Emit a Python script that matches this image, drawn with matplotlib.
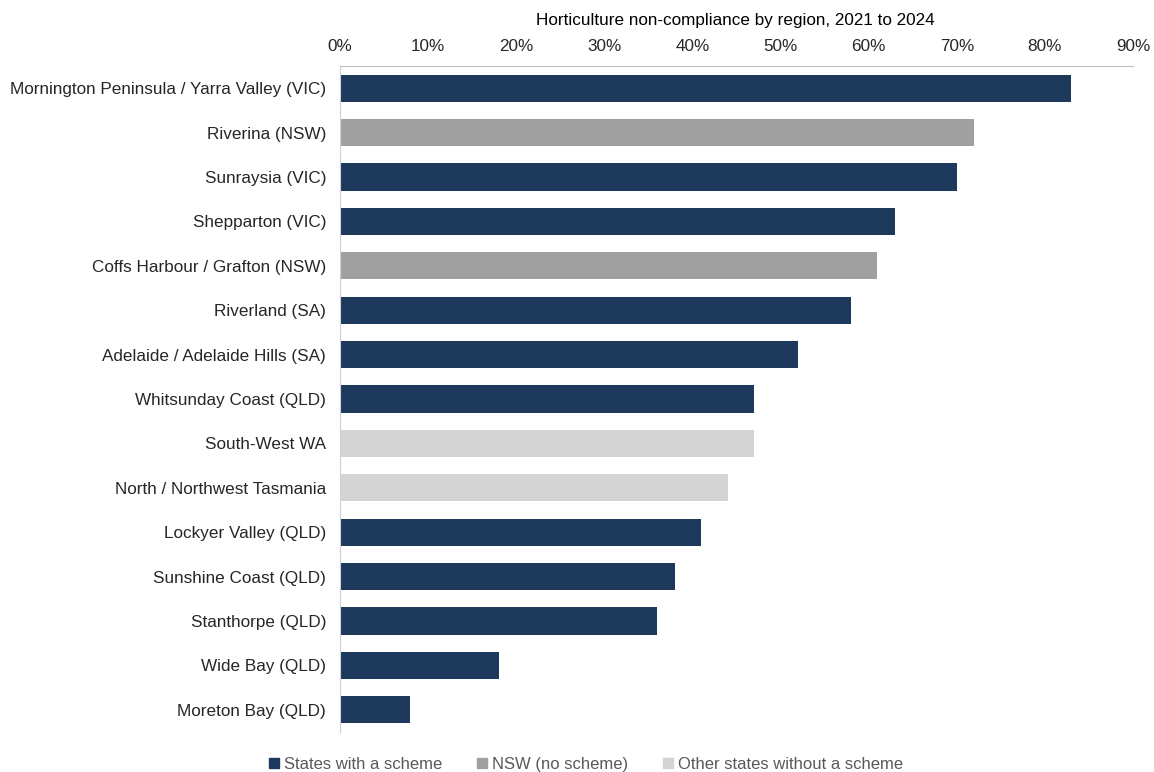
import matplotlib.pyplot as plt
from matplotlib.patches import Patch

plt.rcParams['font.family'] = ['Liberation Sans', 'DejaVu Sans']

# Data
regions = [
    "Mornington Peninsula / Yarra Valley (VIC)",
    "Riverina (NSW)",
    "Sunraysia (VIC)",
    "Shepparton (VIC)",
    "Coffs Harbour / Grafton (NSW)",
    "Riverland (SA)",
    "Adelaide / Adelaide Hills (SA)",
    "Whitsunday Coast (QLD)",
    "South-West WA",
    "North / Northwest Tasmania",
    "Lockyer Valley (QLD)",
    "Sunshine Coast (QLD)",
    "Stanthorpe (QLD)",
    "Wide Bay (QLD)",
    "Moreton Bay (QLD)",
]
non_compliance = [83, 72, 70, 63, 61, 58, 52, 47, 47, 44, 41, 38, 36, 18, 8]
group = ["scheme", "nsw", "scheme", "scheme", "nsw", "scheme", "scheme", "scheme",
         "other", "other", "scheme", "scheme", "scheme", "scheme", "scheme"]
group_labels = {"scheme": "States with a scheme",
                "nsw": "NSW (no scheme)",
                "other": "Other states without a scheme"}
colours = {"scheme": "#1d3a5c", "nsw": "#a0a0a0", "other": "#d4d4d4"}

fig = plt.figure(figsize=(11.54, 7.72), dpi=100)
ax = fig.add_axes([0.2946, 0.0518, 0.6872, 0.8627])

ypos = list(range(len(regions)))
ax.barh(ypos, non_compliance, height=0.61,
        color=[colours[g] for g in group])

ax.set_ylim(len(regions) - 0.5, -0.5)
ax.set_xlim(0, 90)
ax.set_yticks(ypos)
ax.set_yticklabels(regions, fontsize=12.3, color="#262626")
ax.set_xticks(range(0, 91, 10))
ax.set_xticklabels([f"{t}%" for t in range(0, 91, 10)], fontsize=12.3, color="#262626")
ax.xaxis.tick_top()
ax.tick_params(axis="y", length=0, pad=10)
ax.tick_params(axis="x", length=0, pad=9)

for side in ["right", "bottom"]:
    ax.spines[side].set_visible(False)
ax.spines["top"].set_color("#bfbfbf")
ax.spines["left"].set_color("#d0d0d0")

fig.text(0.637, 0.974, "Horticulture non-compliance by region, 2021 to 2024",
         ha="center", va="center", fontsize=12.3)

handles = [Patch(color=colours[k], label=group_labels[k]) for k in ["scheme", "nsw", "other"]]
fig.legend(handles=handles, loc="center", bbox_to_anchor=(0.508, 0.010), ncol=3,
           frameon=False, fontsize=12, handlelength=0.6, handleheight=0.6,
           handletextpad=0.3, columnspacing=2.1, labelcolor="#595959")

fig.savefig("out.png", dpi=100)
